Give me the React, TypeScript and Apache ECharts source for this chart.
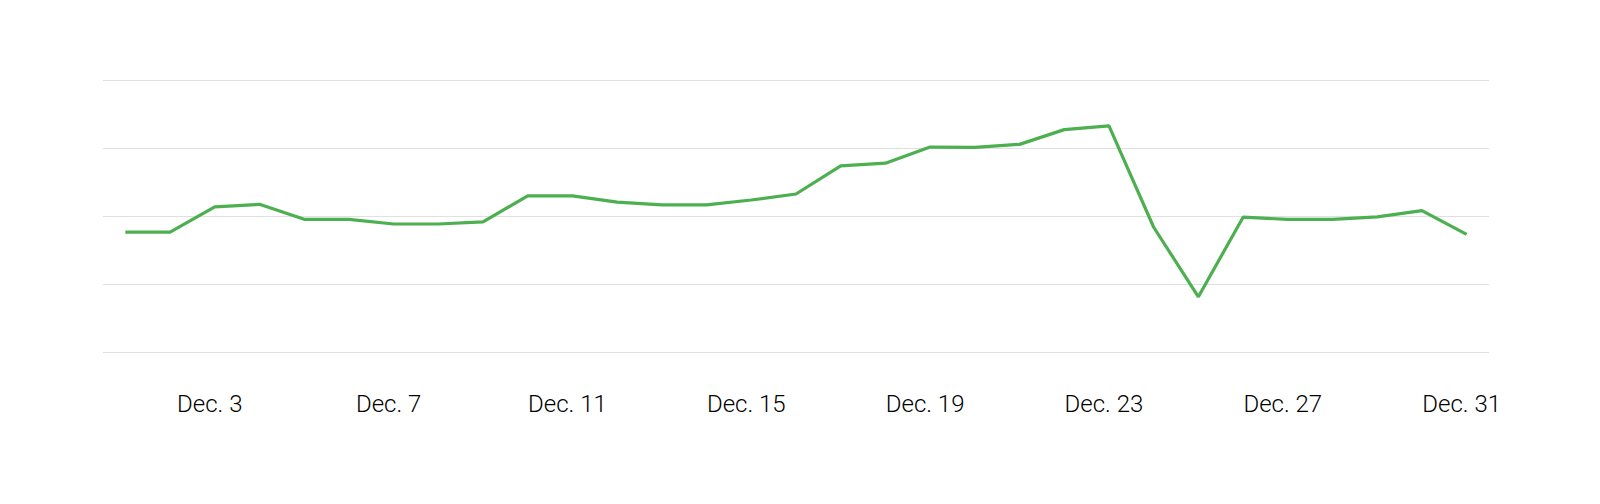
import * as echarts from "echarts";
import { useEffect, useRef } from "react";

const days = Array.from({ length: 31 }, (_, i) => `Dec. ${i + 1}`);

const values = [
  44.2, 44.2, 53.5, 54.4, 48.9, 48.9, 47.2, 47.2, 48.0, 57.5,
  57.5, 55.2, 54.2, 54.2, 56.0, 58.2, 68.5, 69.5, 75.4, 75.3,
  76.4, 81.8, 83.2, 46.0, 20.5, 49.7, 48.9, 48.9, 49.8, 52.1,
  43.4,
];

export default function App() {
  const ref = useRef<HTMLDivElement | null>(null);

  useEffect(() => {
    if (!ref.current) {
      return;
    }
    document.body.style.margin = "0";

    const chart = echarts.init(ref.current, undefined, { renderer: "svg" });
    chart.setOption({
      animation: false,
      grid: { left: 103, right: 111, top: 80, bottom: 151.3 },
      xAxis: {
        type: "category",
        data: days,
        boundaryGap: true,
        axisLine: { show: false },
        axisTick: { show: false },
        axisLabel: {
          interval: (index: number) => index % 4 === 2,
          margin: 39,
          fontFamily: "Roboto",
          fontWeight: 300,
          fontSize: 24,
          color: "#000",
          padding: [0, 10, 0, 0]
        }
      },
      yAxis: {
        type: "value",
        min: 0,
        max: 100,
        interval: 25,
        axisLabel: { show: false },
        axisLine: { show: false },
        axisTick: { show: false },
        splitLine: { lineStyle: { color: "#e0e0e0", width: 1 } }
      },
      series: [
        {
          type: "line",
          data: values,
          showSymbol: false,
          lineStyle: { color: "#4caf50", width: 3.2 },
          itemStyle: { color: "#4caf50" }
        }
      ]
    });

    return () => {
      chart.dispose();
    };
  }, []);

  return <div ref={ref} style={{ width: 1600, height: 504 }} />;
}
